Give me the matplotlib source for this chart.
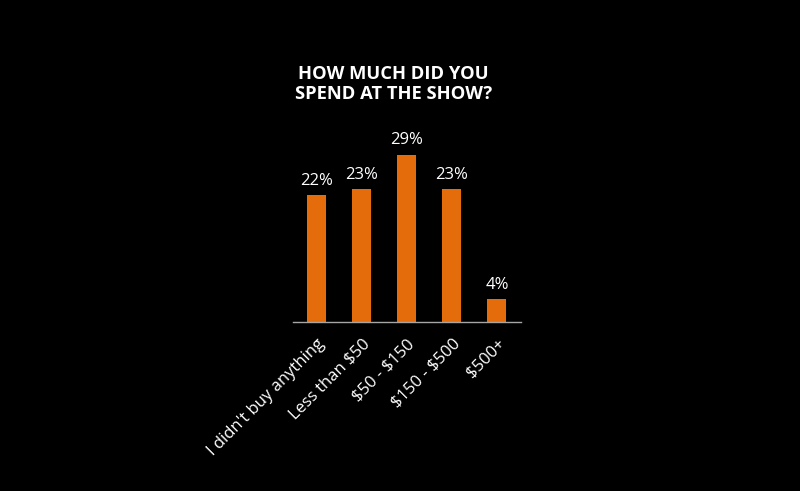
import numpy as np
import matplotlib.pyplot as plt

categories = ["I didn't buy anything", "Less than $50", "$50 - $150", "$150 - $500", "$500+"]
values = [22, 23, 29, 23, 4]
title = "HOW MUCH DID YOU\nSPEND AT THE SHOW?"

plt.rcParams['font.family'] = ['Open Sans', 'DejaVu Sans']
plt.rcParams['text.parse_math'] = False

fig = plt.figure(figsize=(8, 4.91), dpi=100, facecolor='black')
ax = fig.add_axes([0.366, 0.344, 0.285, 0.40])
ax.set_facecolor('black')

x = np.arange(len(categories))
bars = ax.bar(x, values, width=0.42, color='#E46C0A')
for b, v in zip(bars, values):
    ax.text(b.get_x() + b.get_width() / 2, v + 1.1, f"{v}%", ha='center', va='bottom',
            color='white', fontsize=12)

ax.set_xlim(-0.53, 4.53)
ax.set_ylim(0, 34)
ax.set_xticks(x)
ax.set_xticklabels(categories, rotation=45, ha='right', rotation_mode='anchor',
                   color='white', fontsize=12)
ax.tick_params(axis='x', length=0, pad=10)
ax.set_yticks([])
for s in ['top', 'right', 'left']:
    ax.spines[s].set_visible(False)
ax.spines['bottom'].set_color('#a6a6a6')
ax.spines['bottom'].set_linewidth(1)

fig.text(0.4915, 0.829, title, ha='center', va='center', color='white',
         fontsize=13.2, fontweight='bold', linespacing=1.1)

fig.savefig('out.png', dpi=100, facecolor='black')
